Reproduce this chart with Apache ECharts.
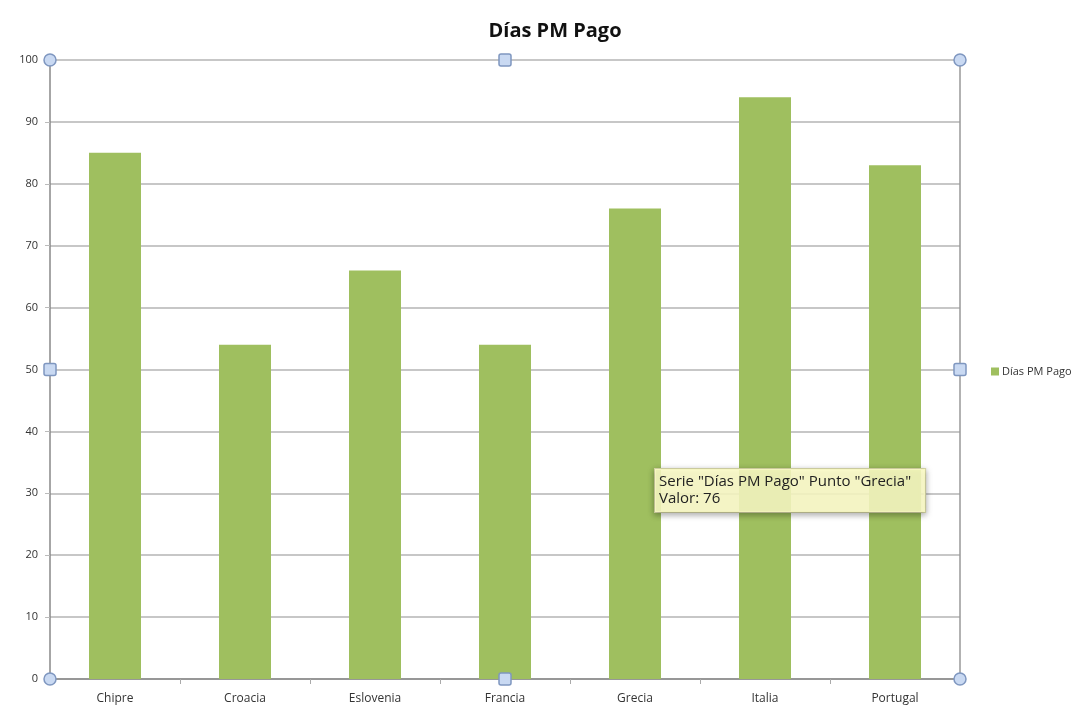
<!DOCTYPE html>
<html>
<head>
<meta charset="utf-8">
<script src="https://cdn.jsdelivr.net/npm/echarts@6/dist/echarts.min.js"></script>
<style>
  html, body { margin: 0; padding: 0; background: #fff; }
  #chart { width: 1084px; height: 711px; }
</style>
</head>
<body>
<div id="chart"></div>
<script>
  // datos
  const seriesName = 'Días PM Pago';
  const paises = ['Chipre', 'Croacia', 'Eslovenia', 'Francia', 'Grecia', 'Italia', 'Portugal'];
  const dias = [85, 54, 66, 54, 76, 94, 83];
  const tipPunto = 'Grecia';

  const fontFam = '"Open Sans", "Noto Sans", sans-serif';
  const myChart = echarts.init(document.getElementById('chart'));

  const option = {
    animation: false,
    title: {
      text: seriesName,
      left: 550,
      textAlign: 'center',
      top: 16,
      textStyle: { fontFamily: fontFam, fontSize: 20, fontWeight: 'bold', color: '#111' }
    },
    legend: {
      data: [seriesName],
      left: 986,
      top: 361,
      icon: 'rect',
      itemWidth: 8,
      itemHeight: 8,
      itemGap: 4,
      textStyle: { fontFamily: fontFam, fontSize: 11, color: '#333', padding: [0, 0, 0, -2] }
    },
    grid: { left: 50, right: 124, top: 60, bottom: 32 },
    xAxis: {
      type: 'category',
      data: paises,
      axisLine: { lineStyle: { color: '#888', width: 1.5 } },
      axisTick: { show: true, length: 5, lineStyle: { color: '#aaa' } },
      axisLabel: { fontFamily: fontFam, fontSize: 12, color: '#333', margin: 14 }
    },
    yAxis: {
      type: 'value',
      min: 0,
      max: 100,
      interval: 10,
      axisLine: { show: true, lineStyle: { color: '#888', width: 1.5 } },
      axisTick: { show: true, length: 5, lineStyle: { color: '#bbb' } },
      axisLabel: { fontFamily: fontFam, fontSize: 11, color: '#333', margin: 12 },
      splitLine: { lineStyle: { color: '#b4b4b4', width: 1.5 } }
    },
    series: [
      {
        name: seriesName,
        type: 'bar',
        data: dias,
        barWidth: '40%',
        itemStyle: { color: '#9fbf5f' }
      }
    ]
  };
  myChart.setOption(option);

  // marco y tiradores de seleccion
  const rect = myChart.getModel().getComponent('grid', 0).coordinateSystem.getRect();
  const x1 = rect.x, y1 = rect.y, x2 = rect.x + rect.width, y2 = rect.y + rect.height;
  const xm = (x1 + x2) / 2, ym = (y1 + y2) / 2;
  const hStyle = { fill: '#c9d9f2', stroke: '#7f97c0', lineWidth: 1.5 };

  let graphics = [
    { type: 'line', shape: { x1: x2, y1: y1, x2: x2, y2: y2 }, style: { stroke: '#999', lineWidth: 1.5 }, z: 5 }
  ];
  [[x1, y1], [x2, y1], [x1, y2], [x2, y2]].forEach(p => {
    graphics.push({ type: 'circle', shape: { cx: p[0], cy: p[1], r: 6 }, style: hStyle, z: 20 });
  });
  [[xm, y1], [x1, ym], [x2, ym], [xm, y2]].forEach(p => {
    graphics.push({ type: 'rect', shape: { x: p[0] - 6, y: p[1] - 6, width: 12, height: 12, r: 2 }, style: hStyle, z: 20 });
  });

  // caja de informacion (tooltip fijo)
  const idx = paises.indexOf(tipPunto);
  const pt = myChart.convertToPixel({ gridIndex: 0 }, [idx, 0]);
  graphics.push({
    type: 'text',
    x: pt[0] + 20,
    y: 469,
    z: 30,
    style: {
      text: 'Serie "' + seriesName + '" Punto "' + tipPunto + '"\nValor: ' + dias[idx],
      fontFamily: fontFam,
      fontSize: 15,
      lineHeight: 17,
      fill: '#222',
      backgroundColor: 'rgba(255,255,200,0.85)',
      borderColor: '#d8d8a8',
      borderWidth: 1,
      padding: [4, 14, 5, 4],
      shadowBlur: 6,
      shadowColor: 'rgba(0,0,0,0.35)',
      shadowOffsetY: 2
    }
  });

  myChart.setOption({ graphic: graphics });
</script>
</body>
</html>
